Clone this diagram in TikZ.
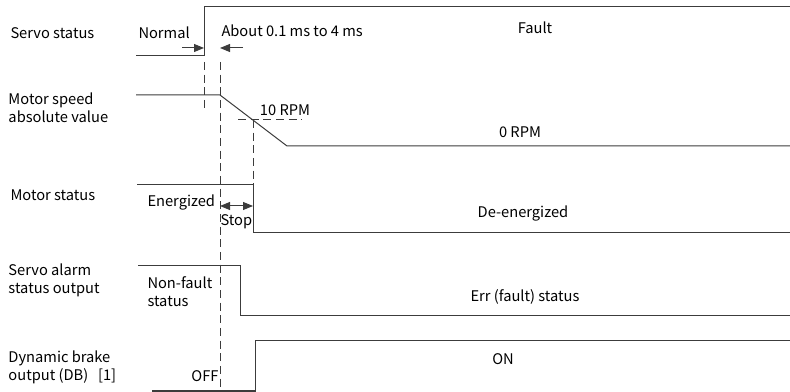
\documentclass[tikz,border=0pt]{standalone}
\usepackage{fontspec}
\setmainfont{Noto Sans CJK SC}
\usetikzlibrary{arrows.meta}

\tikzset{every picture/.style={line width=0.75pt}}
\tikzset{
  sig/.style={color={rgb, 255:red, 60; green, 60; blue, 60 }},
  guide/.style={color={rgb, 255:red, 60; green, 60; blue, 60 }, dash pattern=on 6pt off 3.5pt},
  lbl/.style={anchor=west, align=left, inner sep=0pt, font=\fontsize{11}{13.5}\selectfont},
  val/.style={inner sep=0pt, font=\fontsize{11}{13.5}\selectfont},
  tip/.style={-{Triangle[length=7.5pt,width=6pt]}}
}

\begin{document}
\begin{tikzpicture}[x=0.75pt,y=0.75pt,yscale=-1,xscale=1]
\path[use as bounding box] (0,0) rectangle (790,392); %set diagram to 790 x 392

%Shape: Servo status
\draw [sig] (136,56) -- (204,56) -- (204,7) -- (790,7) ;
%Shape: Motor speed
\draw [sig] (136,95) -- (220,95) -- (287,146) -- (790,146) ;
%Shape: Motor status
\draw [sig] (137,185) -- (253,185) -- (253,233) -- (790,233) ;
%Shape: Servo alarm output
\draw [sig] (138,266) -- (240,266) -- (240,316) -- (790,316) ;
%Shape: Dynamic brake output
\draw [sig] (152,391) -- (255,391) -- (255,341) -- (790,341) ;

%Shape: dashed guides
\draw [guide] (204,62) -- (204,110) ;
\draw [guide] (220,62) -- (220,392) ;
\draw [guide] (253,120) -- (253,185) ;
\draw [guide] (238,120) -- (302,120) ;

%Shape: time arrows
\coordinate (tA) at (182,48) ;
\coordinate (tB) at (243,48) ;
\draw [sig, tip] (tA) -- (204,48) ;
\draw [sig, tip] (tB) -- (220,48) ;
\draw [sig, {Triangle[length=7.5pt,width=6pt]}-{Triangle[length=7.5pt,width=6pt]}] (220,206) -- (253,206) ;

% Text Node
\node [lbl] (servo) at (10,33) {Servo status};
% Text Node
\node [lbl] (normal) at (138,33) {Normal};
% Text Node
\node [lbl] (about) at (221,31) {About 0.1 ms to 4 ms};
% Text Node
\node [val] (fault) at (535,28) {Fault};
% Text Node
\node [lbl] (speed) at (8,108) {Motor speed\\absolute value};
% Text Node
\node [val] (rpm10) at (285,110) {10 RPM};
% Text Node
\node [val] (rpm0) at (520,132) {0 RPM};
% Text Node
\node [lbl] (motor) at (10,195) {Motor status};
% Text Node
\node [lbl] (energ) at (147,202) {Energized};
% Text Node
\node [lbl] (stop) at (220,222) {Stop};
% Text Node
\node [val] (deenerg) at (523,213) {De-energized};
% Text Node
\node [lbl] (alarm) at (8,280) {Servo alarm\\status output};
% Text Node
\node [lbl] (nonfault) at (147,292) {Non-fault\\status};
% Text Node
\node [val] (err) at (525,297) {Err (fault) status};
% Text Node
\node [lbl] (db) at (8,367) {Dynamic brake\\output (DB)\ \ \ [1]};
% Text Node
\node [val] (off) at (205,376) {OFF};
% Text Node
\node [val] (on) at (503,359) {ON};

\end{tikzpicture}
\end{document}
